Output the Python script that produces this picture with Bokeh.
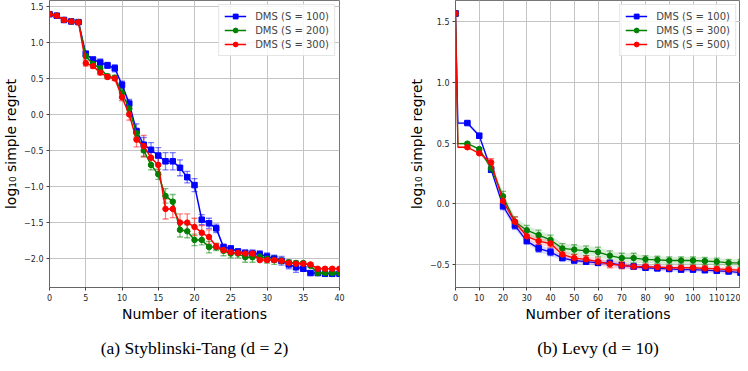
from bokeh.plotting import figure
from bokeh.layouts import row
from bokeh.models import (ColumnDataSource, Whisker, TeeHead, Legend, LegendItem,
                          Title, Range1d, FixedTicker)
from bokeh.embed import file_html
from bokeh.resources import INLINE

# ---------------- Panel (a): Styblinski-Tang (d = 2) ----------------
iters_a = list(range(41))
dms100_a = [1.39, 1.37, 1.31, 1.29, 1.28, 0.84, 0.76, 0.72, 0.68, 0.64,
            0.41, 0.15, -0.23, -0.42, -0.49, -0.57, -0.65, -0.65, -0.74, -0.87,
            -0.98, -1.46, -1.51, -1.58, -1.84, -1.86, -1.90, -1.92, -1.93, -1.94,
            -1.97, -2.00, -2.03, -2.08, -2.12, -2.14, -2.20, -2.20, -2.21, -2.21, -2.21]
err100_a = [0.02, 0.02, 0.02, 0.02, 0.02, 0.04, 0.04, 0.05, 0.04, 0.05,
            0.05, 0.06, 0.10, 0.10, 0.10, 0.11, 0.12, 0.12, 0.11, 0.08,
            0.09, 0.07, 0.07, 0.06, 0.04, 0.04, 0.03, 0.04, 0.05, 0.05,
            0.05, 0.05, 0.06, 0.06, 0.07, 0.03, 0.02, 0.02, 0.02, 0.02, 0.02]
dms200_a = [1.39, 1.37, 1.31, 1.29, 1.28, 0.81, 0.70, 0.64, 0.53, 0.51,
            0.30, 0.08, -0.26, -0.50, -0.70, -0.83, -1.13, -1.21, -1.60, -1.62,
            -1.74, -1.74, -1.84, -1.84, -1.89, -1.93, -1.93, -1.98, -1.98, -1.97,
            -2.00, -2.02, -2.03, -2.05, -2.06, -2.06, -2.10, -2.20, -2.20, -2.20, -2.20]
err200_a = [0.02, 0.02, 0.02, 0.02, 0.02, 0.04, 0.03, 0.03, 0.03, 0.03,
            0.05, 0.05, 0.05, 0.08, 0.07, 0.07, 0.10, 0.10, 0.10, 0.09,
            0.08, 0.07, 0.08, 0.05, 0.07, 0.06, 0.06, 0.07, 0.07, 0.05,
            0.06, 0.06, 0.04, 0.03, 0.03, 0.02, 0.02, 0.02, 0.02, 0.02, 0.02]
dms300_a = [1.39, 1.37, 1.31, 1.29, 1.28, 0.71, 0.67, 0.58, 0.52, 0.50,
            0.24, 0.00, -0.35, -0.44, -0.60, -0.70, -1.31, -1.31, -1.50, -1.50,
            -1.56, -1.64, -1.70, -1.83, -1.88, -1.91, -1.92, -1.93, -1.93, -2.02,
            -2.02, -2.02, -2.03, -2.06, -2.07, -2.07, -2.08, -2.14, -2.14, -2.14, -2.14]
err300_a = [0.02, 0.02, 0.02, 0.02, 0.02, 0.04, 0.03, 0.03, 0.03, 0.03,
            0.05, 0.08, 0.10, 0.15, 0.12, 0.10, 0.14, 0.12, 0.12, 0.12,
            0.12, 0.10, 0.10, 0.04, 0.04, 0.03, 0.03, 0.03, 0.03, 0.02,
            0.02, 0.02, 0.02, 0.02, 0.02, 0.02, 0.02, 0.02, 0.02, 0.02, 0.02]
labels_a = ["DMS (S = 100)", "DMS (S = 200)", "DMS (S = 300)"]
xticks_a = [0, 5, 10, 15, 20, 25, 30, 35, 40]
yticks_a = [-2.0, -1.5, -1.0, -0.5, 0.0, 0.5, 1.0, 1.5]
caption_a = "(a) Styblinski-Tang (d = 2)"

# ---------------- Panel (b): Levy (d = 10) ----------------
iters_b = [0, 5, 10, 15, 20, 25, 30, 35, 40, 45, 50, 55, 60, 65, 70, 75, 80,
           85, 90, 95, 100, 105, 110, 115, 120]
dms100_b = [1.57, 0.665, 0.56, 0.28, -0.02, -0.18, -0.31, -0.37, -0.40, -0.45,
            -0.47, -0.48, -0.49, -0.49, -0.51, -0.52, -0.53, -0.535, -0.54, -0.545,
            -0.545, -0.55, -0.555, -0.56, -0.57]
err100_b = [0.02, 0.01, 0.02, 0.02, 0.03, 0.03, 0.02, 0.03, 0.03, 0.02,
            0.02, 0.02, 0.02, 0.02, 0.02, 0.02, 0.02, 0.02, 0.02, 0.02,
            0.02, 0.02, 0.02, 0.02, 0.02]
dms300_b = [1.57, 0.495, 0.45, 0.29, 0.06, -0.15, -0.22, -0.26, -0.30, -0.37,
            -0.38, -0.39, -0.40, -0.43, -0.45, -0.45, -0.46, -0.465, -0.47, -0.47,
            -0.47, -0.475, -0.48, -0.49, -0.49]
err300_b = [0.02, 0.01, 0.01, 0.03, 0.04, 0.04, 0.04, 0.04, 0.04, 0.04,
            0.04, 0.04, 0.04, 0.04, 0.04, 0.04, 0.03, 0.03, 0.03, 0.03,
            0.03, 0.03, 0.03, 0.03, 0.03]
dms500_b = [1.57, 0.465, 0.415, 0.34, 0.02, -0.15, -0.27, -0.31, -0.33, -0.42,
            -0.45, -0.46, -0.48, -0.50, -0.51, -0.52, -0.52, -0.525, -0.53, -0.53,
            -0.53, -0.535, -0.54, -0.545, -0.55]
err500_b = [0.02, 0.01, 0.01, 0.03, 0.03, 0.04, 0.03, 0.03, 0.03, 0.03,
            0.03, 0.03, 0.03, 0.03, 0.03, 0.02, 0.02, 0.02, 0.02, 0.02,
            0.02, 0.02, 0.02, 0.02, 0.02]
# value reached right after the first iteration (sharp drop from the start)
first_step_b = [0.665, 0.495, 0.465]
labels_b = ["DMS (S = 100)", "DMS (S = 300)", "DMS (S = 500)"]
xticks_b = [0, 10, 20, 30, 40, 50, 60, 70, 80, 90, 100, 110, 120]
yticks_b = [-0.5, 0.0, 0.5, 1.0, 1.5]
caption_b = "(b) Levy (d = 10)"

COLORS = ["#0000ff", "#008000", "#ff0000"]
MARKERS = ["square", "circle", "circle"]
MSIZE = [5.5, 5.5, 5.5]
FONT = "DejaVu Sans"


def fmt(t):
    return f"{t:.1f}".replace("-", "\u2212")


def style(p, xticks, yticks):
    p.xaxis.ticker = FixedTicker(ticks=xticks)
    p.yaxis.ticker = FixedTicker(ticks=yticks)
    p.yaxis.major_label_overrides = {t: fmt(t) for t in yticks}
    for ax in (p.xaxis[0], p.yaxis[0]):
        ax.major_label_text_font = FONT
        ax.major_label_text_font_size = "8px"
        ax.major_label_text_color = "#262626"
        ax.axis_label_text_font = FONT
        ax.axis_label_text_font_size = "14px"
        ax.axis_label_text_font_style = "normal"
        ax.axis_label_text_color = "#000000"
        ax.minor_tick_line_color = None
        ax.major_tick_out = 3
        ax.major_tick_in = 0
        ax.major_tick_line_color = "#444444"
        ax.axis_line_color = "#666666"
        ax.major_label_standoff = 3
        ax.axis_label_standoff = 2
    p.xaxis.axis_label = "Number of iterations"
    p.yaxis.axis_label = "log\u2081\u2080 simple regret"
    p.grid.grid_line_color = "#c4c4c4"
    p.grid.grid_line_width = 1
    p.outline_line_color = "#777777"
    p.outline_line_width = 1
    p.background_fill_color = "white"
    p.border_fill_color = "white"


def add_legend(p, items):
    leg = Legend(items=items, location="top_right")
    leg.label_text_font = FONT
    leg.label_text_font_size = "10px"
    leg.label_height = 12
    leg.glyph_height = 12
    leg.glyph_width = 22
    leg.spacing = 2
    leg.padding = 5
    leg.margin = 4
    leg.label_standoff = 9
    leg.border_line_color = "#cccccc"
    leg.background_fill_alpha = 0.85
    p.add_layout(leg)


def add_caption(p, text):
    p.add_layout(Title(text=text, align="center", text_font="Liberation Serif",
                       text_font_size="17.5px", text_font_style="normal",
                       text_color="#000000", standoff=22), "below")


# ---------------- figure (a) ----------------
p1 = figure(frame_width=290, frame_height=287, output_backend="svg",
            toolbar_location=None, x_range=Range1d(0, 40), y_range=Range1d(-2.40, 1.58),
            min_border_left=38, min_border_right=32, min_border_top=0, min_border_bottom=0)
style(p1, xticks_a, yticks_a)
items = []
for ys, es, c, m, s, lab in zip([dms100_a, dms200_a, dms300_a],
                                [err100_a, err200_a, err300_a],
                                COLORS, MARKERS, MSIZE, labels_a):
    src = ColumnDataSource(dict(x=iters_a, y=ys,
                                up=[y + e for y, e in zip(ys, es)],
                                lo=[y - e for y, e in zip(ys, es)]))
    w = Whisker(base="x", upper="up", lower="lo", source=src,
                line_color=c, line_alpha=0.5, line_width=1.3,
                upper_head=TeeHead(size=6, line_color=c, line_alpha=0.5, line_width=1.3),
                lower_head=TeeHead(size=6, line_color=c, line_alpha=0.5, line_width=1.3))
    p1.add_layout(w)
    r1 = p1.line("x", "y", source=src, line_color=c, line_width=1.5)
    r2 = p1.scatter("x", "y", source=src, marker=m, size=s, fill_color=c, line_color=c)
    items.append(LegendItem(label=lab, renderers=[r1, r2]))
add_legend(p1, items)
add_caption(p1, caption_a)

# ---------------- figure (b) ----------------
p2 = figure(frame_width=285, frame_height=287, output_backend="svg",
            toolbar_location=None, x_range=Range1d(0, 120), y_range=Range1d(-0.693, 1.677),
            min_border_left=84, min_border_right=0, min_border_top=0, min_border_bottom=0)
style(p2, xticks_b, yticks_b)
items = []
for ys, es, first, c, m, s, lab in zip([dms100_b, dms300_b, dms500_b],
                                       [err100_b, err300_b, err500_b],
                                       first_step_b, COLORS, MARKERS, MSIZE, labels_b):
    lx = [iters_b[0], 1] + iters_b[1:]
    ly = [ys[0], first] + ys[1:]
    le = [es[0], es[1]] + es[1:]
    band = ColumnDataSource(dict(x=lx, y=ly,
                                 up=[y + e for y, e in zip(ly, le)],
                                 lo=[y - e for y, e in zip(ly, le)]))
    src = ColumnDataSource(dict(x=iters_b, y=ys,
                                up=[y + e for y, e in zip(ys, es)],
                                lo=[y - e for y, e in zip(ys, es)]))
    p2.varea("x", "lo", "up", source=band, fill_color=c, fill_alpha=0.15)
    w = Whisker(base="x", upper="up", lower="lo", source=src,
                line_color=c, line_alpha=0.5, line_width=1.3,
                upper_head=TeeHead(size=6, line_color=c, line_alpha=0.5, line_width=1.3),
                lower_head=TeeHead(size=6, line_color=c, line_alpha=0.5, line_width=1.3))
    p2.add_layout(w)
    r1 = p2.line("x", "y", source=band, line_color=c, line_width=1.3)
    r2 = p2.scatter("x", "y", source=src, marker=m, size=s, fill_color=c, line_color=c)
    items.append(LegendItem(label=lab, renderers=[r1, r2]))
add_legend(p2, items)
add_caption(p2, caption_b)

layout = row(p1, p2, spacing=0)
open("out.html", "w").write(file_html(layout, INLINE))
